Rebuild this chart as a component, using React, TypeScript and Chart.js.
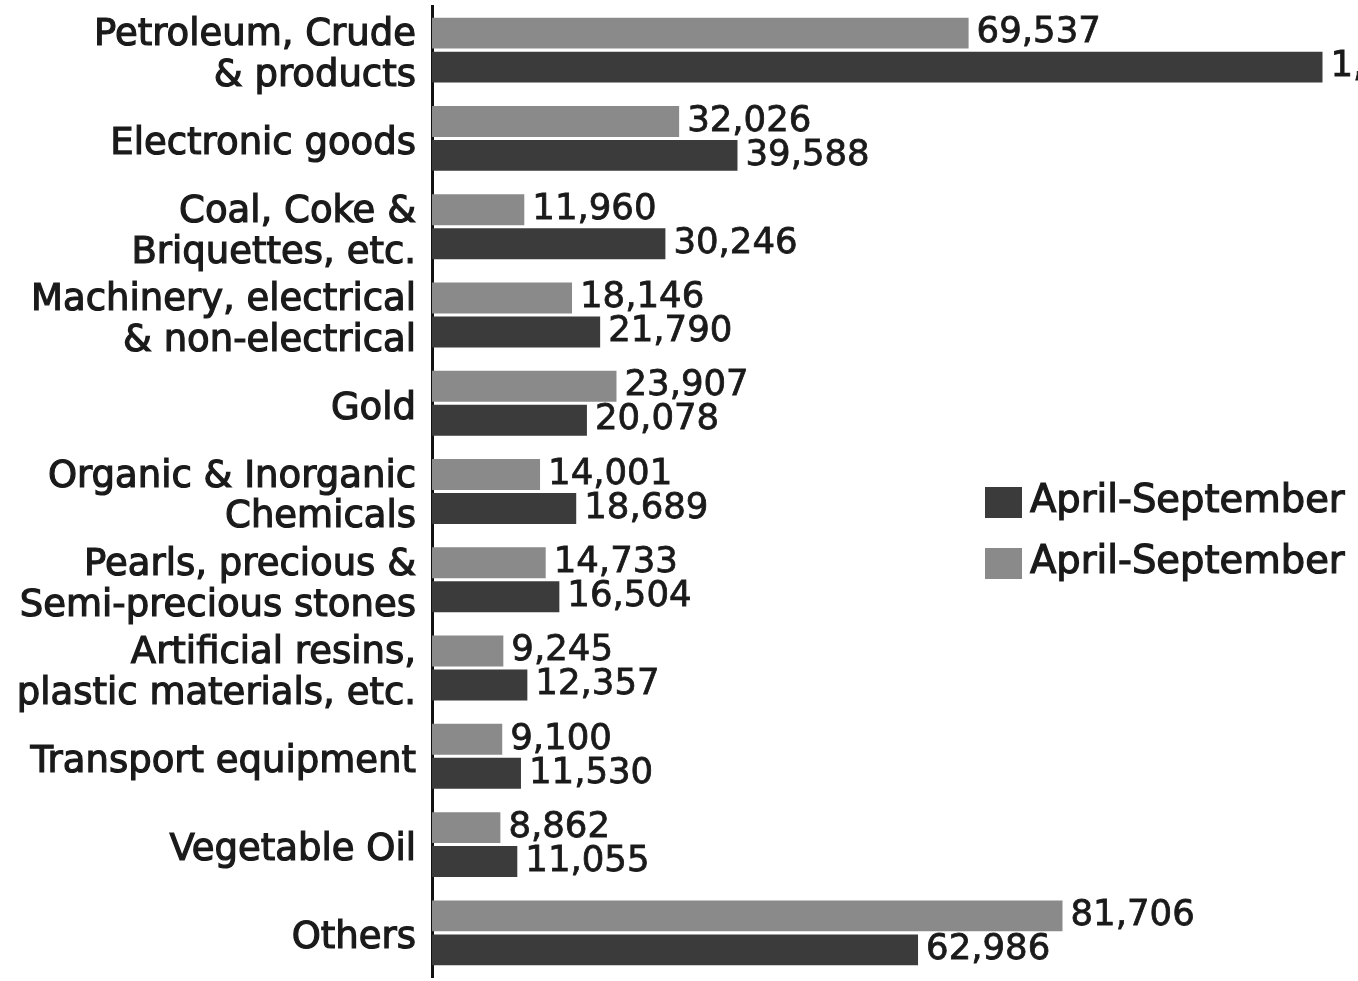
import React, { useEffect, useRef } from "react";
import { Chart, registerables } from "chart.js";

Chart.register(...registerables);

const categories: (string | string[])[] = [
  ["Petroleum, Crude", "& products"],
  "Electronic goods",
  ["Coal, Coke &", "Briquettes, etc."],
  ["Machinery, electrical", "& non-electrical"],
  "Gold",
  ["Organic & Inorganic", "Chemicals"],
  ["Pearls, precious &", "Semi-precious stones"],
  ["Artificial resins,", "plastic materials, etc."],
  "Transport equipment",
  "Vegetable Oil",
  "Others",
];

// light bars (upper bar in each pair)
const seriesLight = [69537, 32026, 11960, 18146, 23907, 14001, 14733, 9245, 9100, 8862, 81706];
// dark bars (lower bar in each pair); first value is cut off in the source, estimated
const seriesDark = [115400, 39588, 30246, 21790, 20078, 18689, 16504, 12357, 11530, 11055, 62986];

const legendLabels = ["April-September", "April-September"];

const LIGHT = "#8a8a8a";
const DARK = "#3b3b3b";
const TEXT = "#1a1a1a";
const FONT = "'DejaVu Sans', Verdana, sans-serif";

function indianFormat(n: number): string {
  const s = Math.round(n).toString();
  if (s.length <= 3) return s;
  const last3 = s.slice(-3);
  let rest = s.slice(0, -3);
  const parts: string[] = [];
  while (rest.length > 2) {
    parts.unshift(rest.slice(-2));
    rest = rest.slice(0, -2);
  }
  if (rest.length) parts.unshift(rest);
  return parts.join(",") + "," + last3;
}

const valueLabelPlugin = {
  id: "valueLabels",
  afterDatasetsDraw(chart: any) {
    const ctx = chart.ctx;
    ctx.save();
    ctx.font = `35.5px ${FONT}`;
    ctx.fillStyle = TEXT;
    ctx.strokeStyle = TEXT;
    ctx.lineWidth = 0.8;
    ctx.textAlign = "left";
    ctx.textBaseline = "middle";
    chart.data.datasets.forEach((ds: any, di: number) => {
      const meta = chart.getDatasetMeta(di);
      meta.data.forEach((bar: any, i: number) => {
        const t = indianFormat(ds.data[i]);
        ctx.fillText(t, bar.x + 8, bar.y);
        ctx.strokeText(t, bar.x + 8, bar.y);
      });
    });
    ctx.restore();
  },
};

const legendPlugin = {
  id: "customLegend",
  afterDraw(chart: any) {
    const ctx = chart.ctx;
    ctx.save();
    const order = [1, 0];
    const x = 985;
    let y = 487;
    order.forEach((di) => {
      const ds = chart.data.datasets[di];
      ctx.fillStyle = ds.backgroundColor;
      ctx.fillRect(x, y, 37, 31);
      ctx.fillStyle = TEXT;
      ctx.strokeStyle = TEXT;
      ctx.lineWidth = 1.2;
      ctx.font = `38.5px ${FONT}`;
      ctx.textAlign = "left";
      ctx.textBaseline = "middle";
      ctx.fillText(ds.label, x + 45, y + 15);
      ctx.strokeText(ds.label, x + 45, y + 15);
      y += 61;
    });
    ctx.restore();
  },
};

export default function App() {
  const ref = useRef<HTMLCanvasElement | null>(null);

  useEffect(() => {
    if (!ref.current) return;
    const chart = new Chart(ref.current, {
      type: "bar",
      data: {
        labels: categories,
        datasets: [
          {
            label: legendLabels[1],
            data: seriesLight,
            backgroundColor: LIGHT,
            categoryPercentage: 0.77,
            barPercentage: 0.91,
          },
          {
            label: legendLabels[0],
            data: seriesDark,
            backgroundColor: DARK,
            categoryPercentage: 0.77,
            barPercentage: 0.91,
          },
        ],
      },
      options: {
        indexAxis: "y",
        animation: false,
        responsive: true,
        maintainAspectRatio: false,
        layout: { padding: { top: 6, bottom: 4, left: 0, right: 0 } },
        plugins: {
          legend: { display: false },
          tooltip: { enabled: false },
        },
        scales: {
          x: {
            display: false,
            min: 0,
            max: 120000,
          },
          y: {
            grid: { display: false, drawTicks: false },
            border: { display: true, color: "#111", width: 3 },
            ticks: {
              color: TEXT,
              padding: 16,
              labelOffset: 6,
              textStrokeColor: TEXT,
              textStrokeWidth: 1.2,
              font: { family: FONT, size: 37, lineHeight: 1.1 },
            },
            afterFit(scale: any) {
              scale.width = 432;
              scale.paddingTop = 0;
              scale.paddingBottom = 0;
            },
          },
        },
      },
      plugins: [valueLabelPlugin, legendPlugin],
    });
    return () => chart.destroy();
  }, []);

  return (
    <div style={{ position: "absolute", left: 0, top: 0, width: 1358, height: 981, background: "#fff" }}>
      <canvas ref={ref} />
    </div>
  );
}
